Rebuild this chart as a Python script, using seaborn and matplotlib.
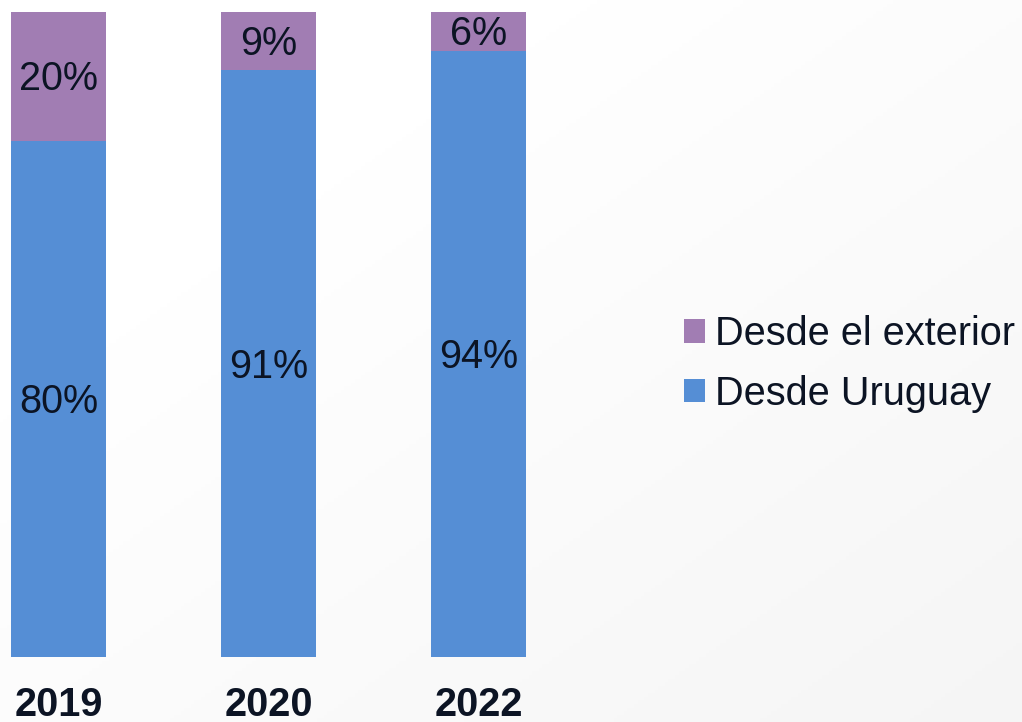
import numpy as np
import pandas as pd
import matplotlib
matplotlib.use("Agg")
import matplotlib.pyplot as plt
import matplotlib.transforms as mtrans
import seaborn as sns
from matplotlib.patches import Patch

years = ["2019", "2020", "2022"]
desde_uruguay = [80, 91, 94]
desde_exterior = [20, 9, 6]
series_names = ["Desde el exterior", "Desde Uruguay"]

color_ext = "#A17DB3"
color_uy = "#558ED5"
text_color = "#0c1424"

sns.set_theme(style="white")
plt.rcParams["font.family"] = ["Liberation Sans", "DejaVu Sans"]

W, H = 1022, 722
fig = plt.figure(figsize=(W / 100, H / 100), dpi=100)

# subtle background gradient
bg = fig.add_axes([0, 0, 1, 1], zorder=-10)
yy, xx = np.mgrid[0:1:200j, 0:1:300j]
g = np.clip((xx * 0.6 + yy * 0.6 - 0.35), 0, 1)
vals = 1.0 - 0.045 * g
bg.imshow(np.dstack([vals, vals, vals]), extent=[0, 1, 0, 1], aspect="auto", origin="upper")
bg.axis("off")

ax_left, ax_right = 0, 540
ax_top, ax_bot = 12, 657
ax = fig.add_axes([ax_left / W, 1 - ax_bot / H, (ax_right - ax_left) / W, (ax_bot - ax_top) / H])
ax.patch.set_alpha(0)

df = pd.DataFrame({"year": years, "uy": desde_uruguay, "ext": desde_exterior})
bw = 95 / 210
sns.barplot(data=df, x="year", y="uy", color=color_uy, width=bw, ax=ax,
            saturation=1, linewidth=0)
sns.barplot(data=df, x="year", y="ext", color=color_ext, width=bw, ax=ax,
            saturation=1, linewidth=0, bottom=df["uy"].values)

c0 = 58.5
ax.set_xlim(-(c0 - ax_left) / 210, (ax_right - c0) / 210)
ax.set_ylim(0, 100)

fs = 28.5
trans = mtrans.offset_copy(ax.transData, fig=fig, x=0, y=-3, units="dots")
for i, (u, e) in enumerate(zip(desde_uruguay, desde_exterior)):
    ax.text(i, u / 2, f"{u}%", ha="center", va="center", fontsize=fs, color=text_color,
            transform=trans)
    ax.text(i, u + e / 2, f"{e}%", ha="center", va="center", fontsize=fs, color=text_color,
            transform=trans)

ax.set_xlabel("")
ax.set_ylabel("")
ax.set_yticks([])
ax.tick_params(axis="x", length=0, pad=21)
for lbl in ax.get_xticklabels():
    lbl.set_fontweight("bold")
    lbl.set_fontsize(28.5)
    lbl.set_color(text_color)
for s in ax.spines.values():
    s.set_visible(False)

handles = [Patch(facecolor=color_ext, edgecolor="none"), Patch(facecolor=color_uy, edgecolor="none")]
fig.legend(handles, series_names, loc="center left", bbox_to_anchor=(684 / W, 1 - 364 / H),
           frameon=False, fontsize=28.6, handlelength=0.53, handleheight=0.53,
           handletextpad=0.25, labelspacing=0.54, borderpad=0, borderaxespad=0,
           labelcolor=text_color)

fig.savefig("out.png", dpi=100)
